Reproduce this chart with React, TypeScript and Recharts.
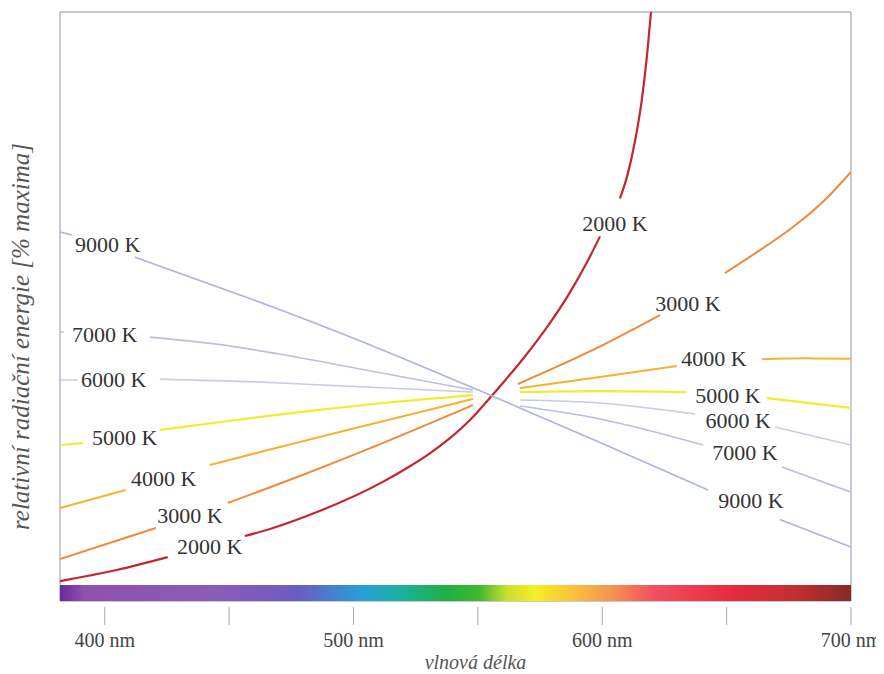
import { LineChart, Line, XAxis, YAxis, ReferenceArea, ReferenceDot } from "recharts";

type Pt = [number, number | null];

// wavelength (nm) / relative energy (% of value at 555 nm); null = gap in the printed line
const k2000: Pt[] = [
  [382, 2.1], [404.8, 7.9], [425.3, 14.7], [440, null], [456.3, 25.8], [466.4, 29.5],
  [485.3, 38.4], [511.8, 54.3], [521, 61.2], [530.7, 69.3], [538, 76.5], [544, 83.3],
  [549.5, 90.6], [554.8, 98.4], [561.5, 108.6], [568.1, 119], [579, 138], [586.9, 153.8],
  [593.8, 169.7], [599.1, 183.5], [603, null], [607.1, 203.5], [609.9, 214.7], [613.1, 233.2],
  [615.9, 255.3], [618, 278.9], [619.6, 301.6],
];
const k3000: Pt[] = [
  [382, 13.7], [420.5, 30], [435, null], [449.5, 43.2], [480, 58.2], [510, 73.8],
  [548, 94.7], [555, null], [566.1, 105.8], [595.4, 123.2], [623.2, 142.1], [640, null],
  [649.3, 164.2], [663.4, 176.3], [676.7, 188.4], [690.3, 203.7], [700, 217.4],
];
const k4000: Pt[] = [
  [382, 40.5], [408.4, 50], [416, null], [442.2, 63.2], [470, 72.5], [500, 82.4],
  [548, 97.9], [555, null], [566.9, 103.7], [599.1, 109.5], [630, 115.3], [648, null],
  [664.2, 118.9], [682, 119.3], [700, 119.1],
];
const k5000: Pt[] = [
  [382, 73.7], [391.2, 74.7], [405, null], [422.1, 81.6], [458.3, 87.8], [485.3, 92.1],
  [511.8, 95.8], [548, 100], [555, null], [566.9, 101.6], [599.1, 102.1], [634, 101.6],
  [650, null], [666.2, 98.4], [700, 93.2],
];
const k6000: Pt[] = [
  [382, 107.9], [389.1, 107.9], [398, null], [422.1, 108.4], [466.4, 106.6], [498.5, 104.6],
  [548, 101.6], [555, null], [566.9, 97.4], [599.1, 95.8], [637.3, 90], [653, null],
  [669.4, 83.2], [700, 73.7],
];
const k7000: Pt[] = [
  [382, 133.2], [383.6, 133.2], [395, null], [418.1, 130.5], [445, 126.8], [470, 121.6],
  [500, 114.4], [548, 102.6], [555, null], [566.9, 94.2], [599.1, 87.4], [640.5, 73.7],
  [656, null], [672.2, 62.1], [700, 48.9],
];
const k9000: Pt[] = [
  [382, 185.8], [386.7, 184.2], [400, null], [412.1, 172.6], [458.3, 150.8], [466.4, 146.9],
  [498.5, 130.7], [554.8, 100], [599.1, 75], [642.5, 50], [658, null], [671.4, 34.5],
  [700, 20],
];

// curve labels: [nm, value, text]
const leftLabels: [number, number, string][] = [
  [401.2, 179.5, "9000 K"], [400, 132.1, "7000 K"], [403.6, 108.4, "6000 K"],
  [408, 77.9, "5000 K"], [423.7, 56.3, "4000 K"], [434.2, 36.8, "3000 K"], [442.2, 20.5, "2000 K"],
];
const rightLabels: [number, number, string][] = [
  [605.1, 190.5, "2000 K"], [634.4, 148.4, "3000 K"], [644.9, 119.5, "4000 K"],
  [650.5, 100, "5000 K"], [654.6, 86.8, "6000 K"], [657.4, 70, "7000 K"], [659.8, 44.7, "9000 K"],
];

const xTicks = [400, 450, 500, 550, 600, 650, 700];
const X_MIN = 382;
const X_MAX = 700;
const Y_MIN = -8.4;
const Y_MAX = 301.6;

const series = [
  { key: "2000", pts: k2000, color: "#c1272d", width: 2.2 },
  { key: "3000", pts: k3000, color: "#ef8a3b", width: 2 },
  { key: "4000", pts: k4000, color: "#f4b232", width: 2 },
  { key: "5000", pts: k5000, color: "#f3ec2c", width: 2.2 },
  { key: "6000", pts: k6000, color: "#c8cce3", width: 1.6 },
  { key: "7000", pts: k7000, color: "#b9bfe0", width: 1.6 },
  { key: "9000", pts: k9000, color: "#abb3de", width: 1.6 },
];

const spectrum = [
  [0, "#6a2a9a"], [0.03, "#9050b0"], [0.2, "#8a5cb8"], [0.3, "#6a5cc0"], [0.34, "#4a7cd0"],
  [0.38, "#2a9ed6"], [0.43, "#1cb0a0"], [0.49, "#20b040"], [0.53, "#40b830"], [0.565, "#c8e030"],
  [0.6, "#f5f020"], [0.65, "#f8c040"], [0.7, "#f59050"], [0.75, "#f05060"], [0.85, "#e82a40"],
  [0.93, "#c03030"], [1, "#8a2828"],
] as const;

const serif = "'Liberation Serif', 'Times New Roman', serif";

const toRows = (pts: Pt[]) => pts.map(([nm, v]) => ({ nm, v }));

function NmTick(props: any) {
  const { x, y, payload } = props;
  const v = payload.value as number;
  return (
    <g>
      <line x1={x} x2={x} y1={y + 6} y2={y + 24} stroke="#a8a8a8" strokeWidth={1} />
      {v % 100 === 0 && (
        <text x={x} y={y + 46} textAnchor="middle" fontFamily={serif} fontSize={20} fill="#444">
          {v} nm
        </text>
      )}
    </g>
  );
}

function XTitle(props: any) {
  const vb = props.viewBox;
  return (
    <text x={vb.x + vb.width / 2 + 20} y={vb.y + 68} textAnchor="middle" fontFamily={serif}
      fontStyle="italic" fontSize={20} fill="#555">
      vlnová délka
    </text>
  );
}

function YTitle(props: any) {
  const vb = props.viewBox;
  const cx = vb.x + 13;
  const cy = vb.y + vb.height / 2 + 30;
  return (
    <text x={cx} y={cy} transform={`rotate(-90, ${cx}, ${cy})`} textAnchor="middle"
      fontFamily={serif} fontStyle="italic" fontSize={25} fill="#555">
      relativní radiační energie [% maxima]
    </text>
  );
}

export default function App() {
  return (
    <LineChart width={876} height={666} margin={{ top: 4, right: 33, left: 8, bottom: 0 }}>
      <defs>
        <linearGradient id="spectrum" x1="0" y1="0" x2="1" y2="0">
          {spectrum.map(([o, c]) => (
            <stop key={o} offset={o} stopColor={c} />
          ))}
        </linearGradient>
      </defs>
      <XAxis type="number" dataKey="nm" domain={[X_MIN, X_MAX]} allowDataOverflow ticks={xTicks}
        interval={0} height={73} tickSize={0} tickMargin={0} axisLine={false} tickLine={false}
        tick={<NmTick />} label={<XTitle />} />
      <YAxis type="number" domain={[Y_MIN, Y_MAX]} allowDataOverflow width={44} tick={false}
        axisLine={false} tickLine={false} label={<YTitle />} />
      <ReferenceArea x1={X_MIN} x2={X_MAX} y1={Y_MIN} y2={Y_MAX} fill="none" stroke="#8f95a8"
        strokeWidth={1} />
      <ReferenceArea x1={X_MIN} x2={X_MAX} y1={Y_MIN} y2={0} fill="url(#spectrum)" fillOpacity={1}
        stroke="none" />
      {series.map((s) => (
        <Line key={s.key} data={toRows(s.pts)} dataKey="v" type="monotone" stroke={s.color}
          strokeWidth={s.width} dot={false} activeDot={false} connectNulls={false}
          isAnimationActive={false} />
      ))}
      {[...leftLabels, ...rightLabels].map(([nm, v, t], i) => (
        <ReferenceDot key={i} x={nm} y={v} r={0} fill="none" stroke="none" ifOverflow="visible"
          label={{ value: t, position: "center", fontFamily: serif, fontSize: 22, fill: "#333" }} />
      ))}
    </LineChart>
  );
}
